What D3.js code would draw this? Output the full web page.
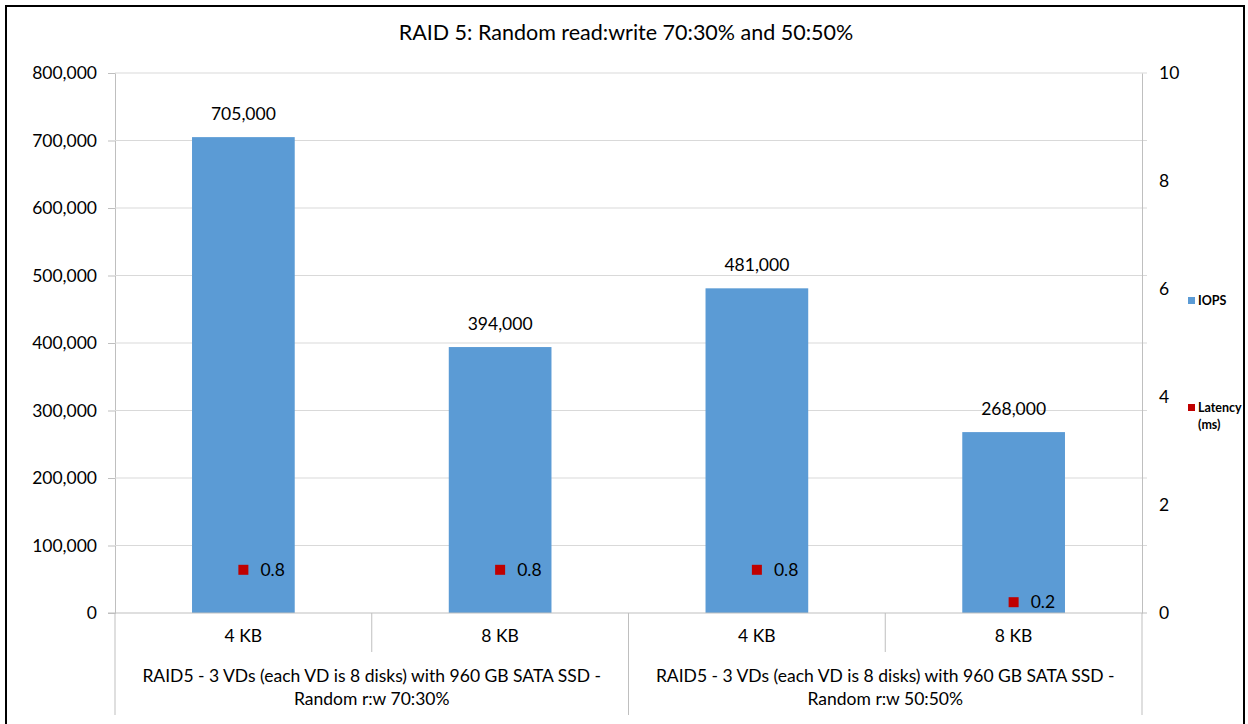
<!DOCTYPE html>
<html><head><meta charset="utf-8">
<script src="https://cdn.jsdelivr.net/npm/d3@7"></script>
<style>body{margin:0;background:#fff}svg{display:block}text{font-family:Lato,"Open Sans",sans-serif;fill:#000}</style>
</head><body><svg id="c" width="1248" height="724"></svg>
<script>
const title = "RAID 5: Random read:write 70:30% and 50:50%";
const blockSizes = ["4 KB", "8 KB", "4 KB", "8 KB"];
const groups = [
  ["RAID5 - 3 VDs (each VD is 8 disks) with 960 GB SATA SSD -", "Random r:w 70:30%"],
  ["RAID5 - 3 VDs (each VD is 8 disks) with 960 GB SATA SSD -", "Random r:w 50:50%"]
];
const iops = [705000, 394000, 481000, 268000];
const latency = [0.8, 0.8, 0.8, 0.2];
const leftTicks = [0, 100000, 200000, 300000, 400000, 500000, 600000, 700000, 800000];
const rightTicks = [0, 2, 4, 6, 8, 10];
const seriesNames = ["IOPS", "Latency (ms)"];

const svg = d3.select("#c");
const L = 115, R = 1142, T = 73, B = 613;
const FS = "17.5px";
const x = d3.scaleBand().domain(d3.range(iops.length)).range([L, R]).paddingInner(0).paddingOuter(0);
const y = d3.scaleLinear().domain([0, 800000]).range([B, T]);
const y2 = d3.scaleLinear().domain([0, 10]).range([B, T]);
const fmt = d3.format(",");
const barW = x.bandwidth() * 0.4;

// frame
svg.append("rect").attr("x", 6).attr("y", 6).attr("width", 1238).attr("height", 740)
  .attr("fill", "none").attr("stroke", "#000").attr("stroke-width", 2);

// title
svg.append("text").attr("x", 626).attr("y", 40).attr("text-anchor", "middle")
  .style("font-size", "21.5px").text(title);

// gridlines + left axis
const gl = svg.append("g").attr("transform", `translate(${L},0)`)
  .call(d3.axisLeft(y).tickValues(leftTicks).tickFormat(fmt).tickSize(7).tickPadding(11));
gl.select(".domain").attr("stroke", "#bfbfbf");
gl.selectAll(".tick line").attr("stroke", "#bfbfbf");
gl.selectAll(".tick text").style("font-size", FS).style("font-family", "Lato,sans-serif").attr("fill", "#000");
svg.append("g").selectAll("line").data(leftTicks.filter(d => d > 0)).join("line")
  .attr("x1", L).attr("x2", R + 5).attr("y1", d => y(d)).attr("y2", d => y(d))
  .attr("stroke", "#d9d9d9").attr("stroke-width", 1);

// right axis
const gr = svg.append("g").attr("transform", `translate(${R},0)`)
  .call(d3.axisRight(y2).tickValues(rightTicks).tickSize(0).tickPadding(17));
gr.select(".domain").attr("stroke", "#bfbfbf");
gr.selectAll(".tick text").style("font-size", FS).style("font-family", "Lato,sans-serif").attr("fill", "#000");

// bars
svg.append("g").selectAll("rect").data(iops).join("rect")
  .attr("x", (d, i) => x(i) + (x.bandwidth() - barW) / 2)
  .attr("width", barW)
  .attr("y", d => y(d)).attr("height", d => B - y(d))
  .attr("fill", "#5B9BD5");
svg.append("g").selectAll("text").data(iops).join("text")
  .attr("x", (d, i) => x(i) + x.bandwidth() / 2).attr("y", d => y(d) - 17)
  .attr("text-anchor", "middle").style("font-size", FS).text(fmt);

// baseline
svg.append("line").attr("x1", L - 7).attr("x2", R + 5).attr("y1", B).attr("y2", B)
  .attr("stroke", "#bfbfbf");

// latency markers
svg.append("g").selectAll("rect").data(latency).join("rect")
  .attr("x", (d, i) => x(i) + x.bandwidth() / 2 - 5).attr("y", d => y2(d) - 5)
  .attr("width", 10).attr("height", 10).attr("fill", "#C00000");
svg.append("g").selectAll("text").data(latency).join("text")
  .attr("x", (d, i) => x(i) + x.bandwidth() / 2 + 17).attr("y", d => y2(d) + 6)
  .style("font-size", FS).text(d => d.toFixed(1));

// category axis dividers
const bounds = d3.range(iops.length + 1).map(i => i < iops.length ? x(i) : R);
svg.append("g").selectAll("line").data(bounds).join("line")
  .attr("x1", d => d).attr("x2", d => d).attr("y1", B)
  .attr("y2", (d, i) => i % 2 === 0 ? 715 : 652)
  .attr("stroke", "#bfbfbf");
svg.append("g").selectAll("text").data(blockSizes).join("text")
  .attr("x", (d, i) => x(i) + x.bandwidth() / 2).attr("y", 642)
  .attr("text-anchor", "middle").style("font-size", FS).text(d => d);
const gg = svg.append("g").selectAll("text").data(groups).join("text")
  .attr("text-anchor", "middle").style("font-size", FS);
gg.selectAll("tspan").data((d, gi) => d.map(t => ({t, gi}))).join("tspan")
  .attr("x", d => (x(d.gi * 2) + (d.gi * 2 + 2 < iops.length ? x(d.gi * 2 + 2) : R)) / 2)
  .attr("y", (d, i) => 682 + i * 23).text(d => d.t);

// legend
const lg = svg.append("g").style("font-weight", "bold");
lg.append("rect").attr("x", 1188).attr("y", 297).attr("width", 7).attr("height", 7).attr("fill", "#5B9BD5");
lg.append("text").attr("x", 1198).attr("y", 305).style("font-size", "12.5px").text(seriesNames[0]);
lg.append("rect").attr("x", 1188).attr("y", 404).attr("width", 7).attr("height", 7).attr("fill", "#C00000");
lg.append("text").attr("x", 1198).attr("y", 412).style("font-size", "12.5px").text("Latency");
lg.append("text").attr("x", 1198).attr("y", 429).style("font-size", "12.5px").text("(ms)");
</script></body></html>
